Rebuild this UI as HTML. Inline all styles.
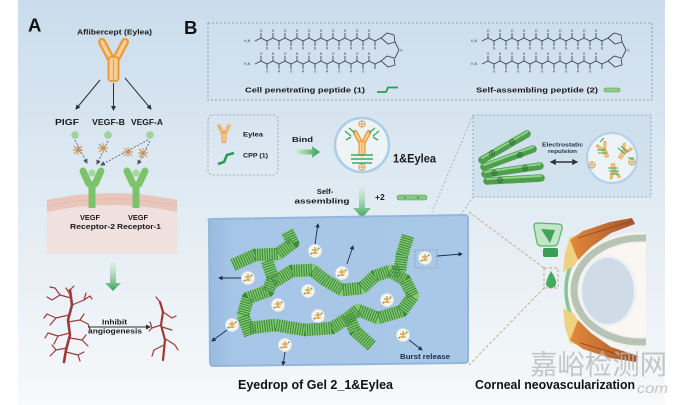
<!DOCTYPE html>
<html><head><meta charset="utf-8">
<style>
html,body{margin:0;padding:0;background:#fff;}
svg{display:block;}
</style></head>
<body>
<svg width="680" height="405" viewBox="0 0 680 405" xmlns="http://www.w3.org/2000/svg" font-family="'Liberation Sans', Arial, sans-serif">
<defs>
 <linearGradient id="bg" x1="0" y1="0" x2="0" y2="1">
  <stop offset="0" stop-color="#cadcec"/>
  <stop offset=".5" stop-color="#e1ebf3"/>
  <stop offset="1" stop-color="#f7f9fa"/>
 </linearGradient>
 <linearGradient id="gel" x1="0" y1="0" x2="1" y2="0">
  <stop offset="0" stop-color="#98bbe0"/>
  <stop offset=".1" stop-color="#a7c6e7"/>
  <stop offset="1" stop-color="#a9c8e7"/>
 </linearGradient>
 <linearGradient id="gh" x1="0" y1="0" x2="1" y2="0">
  <stop offset="0" stop-color="#cdeac8"/>
  <stop offset="1" stop-color="#35a257"/>
 </linearGradient>
 <linearGradient id="gv" x1="0" y1="0" x2="0" y2="1">
  <stop offset="0" stop-color="#d2ecd0" stop-opacity=".4"/>
  <stop offset="1" stop-color="#35a257"/>
 </linearGradient>
 <linearGradient id="orng" x1="0" y1="0" x2="1" y2="0">
  <stop offset="0" stop-color="#e08a3a"/>
  <stop offset="1" stop-color="#a9542a"/>
 </linearGradient>
 <marker id="ah" viewBox="0 0 10 10" refX="8" refY="5" markerWidth="5" markerHeight="5" orient="auto-start-reverse">
  <path d="M0,0L10,5L0,10z" fill="#2a2f38"/>
 </marker>
 <marker id="ahn" viewBox="0 0 10 10" refX="8" refY="5" markerWidth="5" markerHeight="5" orient="auto-start-reverse">
  <path d="M0,0L10,5L0,10z" fill="#1f2d4a"/>
 </marker>
 <marker id="ahg" viewBox="0 0 10 10" refX="8" refY="5" markerWidth="6" markerHeight="6" orient="auto">
  <path d="M0,0L10,5L0,10z" fill="#4a5566"/>
 </marker>
 <g id="ab">
  <line x1="102" y1="42" x2="111" y2="59" stroke="#eb9a3e" stroke-width="8" stroke-linecap="round"/>
  <line x1="125" y1="42" x2="116" y2="59" stroke="#eb9a3e" stroke-width="8" stroke-linecap="round"/>
  <line x1="102" y1="42" x2="111" y2="59" stroke="#f8cf95" stroke-width="3.5" stroke-linecap="round"/>
  <line x1="125" y1="42" x2="116" y2="59" stroke="#f8cf95" stroke-width="3.5" stroke-linecap="round"/>
  <rect x="108.5" y="57" width="10" height="24" rx="3" fill="#f8cf95" stroke="#eb9a3e" stroke-width="2"/>
  <line x1="113.5" y1="59" x2="113.5" y2="80" stroke="#eb9a3e" stroke-width="1"/>
 </g>
 <g id="row" fill="none" stroke="#3c4148" stroke-width=".85">
  <polyline points="255,41 261,38 267,41 273,38 279,41 285,38 291,41 297,38 303,41 309,38 315,41 321,38 327,41 333,38 339,41 345,38 351,41 357,38 363,41 369,38 375,41 381,38"/>
  <path d="M261,38v-5M273,38v-5M285,38v-5M297,38v-5M309,38v-5M321,38v-5M333,38v-5M345,38v-5M357,38v-5M369,38v-5M267,41v5M279,41v5M291,41v5M303,41v5M315,41v5M327,41v5M339,41v5M351,41v5M363,41v5M375,41v5"/>
  <polygon points="381,38 387,33 394,35 395,42 388,44"/>
 </g>
 <g id="pep">
  <use href="#row"/>
  <use href="#row" y="23"/>
  <path d="M395,42 L399,50 L395,58" fill="none" stroke="#3c4148" stroke-width=".85"/>
 </g>
 <g id="np">
  <circle r="6.5" fill="#f6f4ec" stroke="#dde5ea" stroke-width=".7"/>
  <path d="M-3,-1h6M0,-4v7M-2.5,2h5" stroke="#d7a64c" stroke-width="1.4"/>
  <circle cx="-3.6" cy="2.6" r=".9" fill="#5f8a55"/>
  <circle cx="3.6" cy="-2.6" r=".9" fill="#5f8a55"/>
 </g>
 <g id="pl">
  <circle r="3.2" fill="none" stroke="#c8963c" stroke-width=".8"/>
  <path d="M-3.2,0H3.2M0,-3.2V3.2" stroke="#c8963c" stroke-width=".8"/>
 </g>
 <g id="plg">
  <circle r="2.6" fill="none" stroke="#2e6a30" stroke-width=".7"/>
  <path d="M-2.6,0H2.6M0,-2.6V2.6" stroke="#2e6a30" stroke-width=".7"/>
 </g>
 <clipPath id="eyeclip"><rect x="520" y="200" width="126" height="190"/></clipPath>
</defs>

<rect width="680" height="405" fill="#fff"/>
<rect x="18" y="0" width="647" height="405" fill="url(#bg)"/>

<!-- ================= PANEL A ================= -->
<text x="28" y="31.5" font-size="18.5" font-weight="bold" fill="#111">A</text>
<text x="77" y="34.5" font-size="7.6" font-weight="bold" fill="#1a1a1a" textLength="75" lengthAdjust="spacingAndGlyphs">Aflibercept (Eylea)</text>
<use href="#ab"/>
<g stroke="#2a2f38" stroke-width="1">
 <line x1="100" y1="80" x2="76" y2="109" marker-end="url(#ah)"/>
 <line x1="113.5" y1="83" x2="113.5" y2="110" marker-end="url(#ah)"/>
 <line x1="125" y1="78" x2="151" y2="109" marker-end="url(#ah)"/>
</g>
<g font-size="8" font-weight="bold" fill="#1a1a1a">
 <text x="55" y="125" textLength="24" lengthAdjust="spacingAndGlyphs">PlGF</text>
 <text x="92" y="125" textLength="33" lengthAdjust="spacingAndGlyphs">VEGF-B</text>
 <text x="131" y="125" textLength="32" lengthAdjust="spacingAndGlyphs">VEGF-A</text>
</g>
<g fill="#9fd39a">
 <circle cx="75" cy="135" r="3.8"/><circle cx="108" cy="135" r="3.8"/><circle cx="150" cy="135" r="3.8"/>
</g>
<g stroke="#4a5566" stroke-width=".8" stroke-dasharray="2 1.5" fill="none">
 <line x1="75" y1="140" x2="87" y2="163" marker-end="url(#ahg)"/>
 <line x1="108" y1="141" x2="97" y2="164" marker-end="url(#ahg)"/>
 <line x1="148" y1="140" x2="101" y2="165" marker-end="url(#ahg)"/>
 <line x1="150" y1="141" x2="138" y2="164" marker-end="url(#ahg)"/>
</g>
<g stroke="#c98a4a" stroke-width=".9">
 <path d="M74,146l8,8M82,146l-8,8M78,145v10M73,150h10"/>
 <path d="M99,144l8,8M107,144l-8,8M103,143v10M98,148h10"/>
 <path d="M124,148l8,8M132,148l-8,8M128,147v10M123,152h10"/>
 <path d="M139,149l8,8M147,149l-8,8M143,148v10M138,153h10"/>
</g>
<!-- membrane -->
<path d="M47,200 Q112,186 177,200 L177,254 L47,254 Z" fill="#f1e1de"/>
<path d="M47,200 Q112,186 177,200 L177,212 Q112,198 47,212 Z" fill="#e9c6bb"/>
<path d="M47,206 Q112,192 177,206" fill="none" stroke="#d6a396" stroke-width=".8" stroke-dasharray="1 1.5"/>
<!-- receptors -->
<g stroke="#7cc36b" stroke-linecap="round" fill="none">
 <line x1="83" y1="171" x2="89" y2="184" stroke-width="7"/>
 <line x1="101" y1="171" x2="95" y2="184" stroke-width="7"/>
 <line x1="92" y1="184" x2="92" y2="208" stroke-width="7" stroke-linecap="butt"/>
 <line x1="127" y1="171" x2="133" y2="184" stroke-width="7"/>
 <line x1="145" y1="171" x2="139" y2="184" stroke-width="7"/>
 <line x1="136" y1="184" x2="136" y2="208" stroke-width="7" stroke-linecap="butt"/>
</g>
<circle cx="92" cy="173" r="3.5" fill="#a3d89b"/>
<circle cx="136" cy="173" r="3.5" fill="#a3d89b"/>
<g font-size="7.6" font-weight="bold" fill="#1a1a1a">
 <text x="80" y="220" textLength="20" lengthAdjust="spacingAndGlyphs">VEGF</text>
 <text x="128" y="220" textLength="20" lengthAdjust="spacingAndGlyphs">VEGF</text>
 <text x="70" y="229" textLength="45" lengthAdjust="spacingAndGlyphs">Receptor-2</text>
 <text x="117" y="229" textLength="44" lengthAdjust="spacingAndGlyphs">Receptor-1</text>
</g>
<!-- green arrow A -->
<path d="M110,262 H116 V283 H121 L113,291 L105,283 H110 Z" fill="url(#gv)"/>
<!-- vessels -->
<g stroke="#9c3a3a" fill="none" stroke-linecap="round" stroke-linejoin="round">
 <path d="M70,290 L72,305 L68,320 L70,335 L66,350 L64,362" stroke-width="2.6"/>
 <path d="M160,302 L163,312 L161,325 L165,340 L163,360" stroke-width="2.2"/>
 <g stroke-width="1.2">
  <path d="M71,298 L60,295 L52,300 M60,295 L55,288 M52,300 L47,297 M55,288 L50,287"/>
  <path d="M72,305 L84,300 L90,296 M84,300 L86,293 M90,296 L92,299"/>
  <path d="M69,315 L56,318 L47,314 M56,318 L50,325 M47,314 L44,318"/>
  <path d="M68,322 L80,320 L88,324 M80,320 L84,314 M88,324 L90,330"/>
  <path d="M70,333 L58,336 L48,333 M58,336 L54,344 M48,333 L45,338"/>
  <path d="M70,338 L82,340 L88,346 M82,340 L86,335"/>
  <path d="M67,348 L56,350 L50,356 M56,350 L52,345"/>
  <path d="M66,352 L78,355 L84,352 M78,355 L80,361"/>
  <path d="M71,296 L66,288 M70,290 L74,286"/>
  <path d="M163,312 L172,318 L176,316 M161,325 L152,328 L150,322 M162,327 L172,330 M164,338 L175,345 L178,350 M164,345 L154,350 L152,356 M160,302 L156,297 M152,328 L149,331"/>
 </g>
</g>
<line x1="88" y1="327" x2="150" y2="327" stroke="#2a2f38" stroke-width="1" marker-end="url(#ah)"/>
<text x="102" y="324.5" font-size="7" font-weight="bold" fill="#1a1a1a" textLength="25" lengthAdjust="spacingAndGlyphs">Inhibit</text>
<text x="88" y="333.5" font-size="7" font-weight="bold" fill="#1a1a1a" textLength="54" lengthAdjust="spacingAndGlyphs">angiogenesis</text>

<!-- ================= PANEL B ================= -->
<text x="184" y="34" font-size="18.5" font-weight="bold" fill="#111">B</text>
<rect x="208" y="23" width="444" height="77" fill="none" stroke="#7f8c99" stroke-width=".8" stroke-dasharray="2 2"/>
<use href="#pep"/>
<use href="#pep" x="227"/>
<g font-size="3.4" fill="#3a3f46">
 <text x="244" y="42">H₂N</text><text x="244" y="65">H₂N</text>
 <text x="471" y="42">H₂N</text><text x="471" y="65">H₂N</text>
 <text x="259.8 271.8 283.8 295.8 307.8 319.8 331.8 343.8 355.8 367.8" y="32">OHOHOHOHOH</text>
 <text x="265.8 277.8 289.8 301.8 313.8 325.8 337.8 349.8 361.8 373.8" y="49.5">NRNRNRNRNR</text>
 <text x="259.8 271.8 283.8 295.8 307.8 319.8 331.8 343.8 355.8 367.8" y="55">OHOHOHOHOH</text>
 <text x="265.8 277.8 289.8 301.8 313.8 325.8 337.8 349.8 361.8 373.8" y="72.5">ORORORORO</text>
 <text x="486.8 498.8 510.8 522.8 534.8 546.8 558.8 570.8 582.8 594.8" y="32">OHOHOHOHOH</text>
 <text x="492.8 504.8 516.8 528.8 540.8 552.8 564.8 576.8 588.8 600.8" y="49.5">NRNRNRNRNR</text>
 <text x="486.8 498.8 510.8 522.8 534.8 546.8 558.8 570.8 582.8 594.8" y="55">OHOHOHOHOH</text>
 <text x="492.8 504.8 516.8 528.8 540.8 552.8 564.8 576.8 588.8 600.8" y="72.5">ORORORORO</text>
 <text x="400" y="51.5">O</text><text x="627" y="51.5">O</text>
</g>
<text x="245" y="92.5" font-size="7.6" font-weight="bold" fill="#1a1a1a" textLength="120" lengthAdjust="spacingAndGlyphs">Cell penetrating peptide (1)</text>
<polyline points="377,92 386,92 388,87.5 398,87.5" fill="none" stroke="#2f9a55" stroke-width="1.8"/>
<text x="476" y="92.5" font-size="7.6" font-weight="bold" fill="#1a1a1a" textLength="122" lengthAdjust="spacingAndGlyphs">Self-assembling peptide (2)</text>
<rect x="604" y="88" width="16" height="4" rx="1.5" fill="#8ccb88" stroke="#4d9e50" stroke-width=".5"/>

<!-- small box -->
<rect x="208" y="115" width="70" height="60" rx="5" fill="none" stroke="#8d9aa8" stroke-width=".8" stroke-dasharray="2 2"/>
<use href="#ab" transform="translate(217,124) scale(.42) translate(-97,-37)"/>
<polyline points="218,164 224,162 227,155 234,153" fill="none" stroke="#2f9a55" stroke-width="2.6"/>
<text x="243" y="136.5" font-size="6.5" font-weight="bold" fill="#1a1a1a" textLength="20" lengthAdjust="spacingAndGlyphs">Eylea</text>
<text x="243" y="157.5" font-size="6.5" font-weight="bold" fill="#1a1a1a" textLength="25" lengthAdjust="spacingAndGlyphs">CPP (1)</text>
<text x="292" y="142" font-size="7" font-weight="bold" fill="#1a1a1a" textLength="21" lengthAdjust="spacingAndGlyphs">Bind</text>
<path d="M297,149.5 H312 V146 L320,152 L312,158 V154.5 H297 Z" fill="url(#gh)"/>

<!-- 1&Eylea circle -->
<circle cx="362" cy="145" r="27" fill="#eef3f5" stroke="#aacde8" stroke-width="2.5"/>
<use href="#ab" transform="translate(362,143) scale(.6) translate(-113.5,-60)"/>
<g stroke="#3faa62" stroke-width="1.4" fill="none">
 <path d="M351,155 H373 M351,159 H373 M352,163 H372"/>
 <path d="M345,131 l6,5 M349,128 l6,5 M379,131 l-6,5 M375,128 l-6,5"/>
 <path d="M346,140 l5,-3 M378,140 l-5,-3"/>
</g>
<use href="#pl" x="362" y="124"/>
<use href="#pl" x="362" y="167"/>
<text x="393" y="162.5" font-size="11.5" font-weight="bold" fill="#1a1a1a" textLength="43" lengthAdjust="spacingAndGlyphs">1&amp;Eylea</text>

<!-- self assembling arrow -->
<path d="M359,187 H365 V208 H371 L362,218 L353,208 H359 Z" fill="url(#gv)"/>
<text x="325" y="194" font-size="7.6" font-weight="bold" fill="#1a1a1a" text-anchor="middle">Self-</text>
<text x="322" y="203.5" font-size="7.6" font-weight="bold" fill="#1a1a1a" text-anchor="middle" textLength="55" lengthAdjust="spacingAndGlyphs">assembling</text>
<text x="375" y="200" font-size="8.5" font-weight="bold" fill="#1a1a1a">+2</text>
<rect x="397" y="195" width="30" height="5" rx="2.5" fill="#86c983" stroke="#4d9e50" stroke-width=".6"/>
<circle cx="405" cy="197.5" r=".8" fill="#2e6a30"/><circle cx="418" cy="197.5" r=".8" fill="#2e6a30"/>

<!-- right dashed box -->
<rect x="473" y="115" width="178" height="82" fill="#c7dae9" fill-opacity=".55" stroke="#8d9aa8" stroke-width=".8" stroke-dasharray="2 2"/>
<g stroke-linecap="round">
 <line x1="482" y1="160" x2="527" y2="134" stroke="#4f9e4c" stroke-width="7.5"/>
 <line x1="484" y1="167" x2="533" y2="149" stroke="#4f9e4c" stroke-width="7.5"/>
 <line x1="485" y1="174" x2="540" y2="166" stroke="#4f9e4c" stroke-width="7.5"/>
 <line x1="487" y1="181" x2="541" y2="178" stroke="#4f9e4c" stroke-width="7.5"/>
 <line x1="482" y1="158" x2="527" y2="132" stroke="#8fd487" stroke-width="2"/>
 <line x1="484" y1="165" x2="533" y2="147" stroke="#8fd487" stroke-width="2"/>
 <line x1="485" y1="172" x2="540" y2="164" stroke="#8fd487" stroke-width="2"/>
 <line x1="487" y1="179" x2="541" y2="176" stroke="#8fd487" stroke-width="2"/>
</g>
<use href="#plg" x="512" y="142"/><use href="#plg" x="492" y="153"/>
<use href="#plg" x="520" y="155"/><use href="#plg" x="525" y="168"/>
<use href="#plg" x="494" y="173"/><use href="#plg" x="500" y="180"/>
<text x="542" y="146.5" font-size="5.6" font-weight="bold" fill="#1e2b48" textLength="41" lengthAdjust="spacingAndGlyphs">Electrostatic</text>
<text x="548" y="153" font-size="5.6" font-weight="bold" fill="#1e2b48" textLength="29" lengthAdjust="spacingAndGlyphs">repulsion</text>
<line x1="551" y1="162" x2="577" y2="162" stroke="#111" stroke-width="1.2" marker-start="url(#ah)" marker-end="url(#ah)"/>
<circle cx="612" cy="158" r="25" fill="#eef3f6" stroke="#b3d2ea" stroke-width="2.2"/>
<use href="#ab" transform="translate(604,150) rotate(-25) scale(.36) translate(-113.5,-60)"/>
<use href="#ab" transform="translate(624,152) rotate(35) scale(.36) translate(-113.5,-60)"/>
<use href="#ab" transform="translate(614,171) rotate(170) scale(.36) translate(-113.5,-60)"/>
<g stroke="#3faa62" stroke-width="1.1" fill="none">
 <path d="M597,150 h9 M598,153 h9 M618,148 l7,6 M621,146 l7,6 M608,168 h10 M609,171 h10 M610,174 h9 M628,158 h6 M600,142 l4,-4"/>
</g>
<use href="#pl" x="592" y="165"/>
<use href="#pl" x="632" y="162"/>

<!-- connector dashed lines -->
<g stroke="#9aa8b4" stroke-width=".8" stroke-dasharray="2 2" fill="none">
 <line x1="473" y1="115" x2="416" y2="250"/>
 <line x1="473" y1="197" x2="437" y2="250"/>
</g>
<g stroke="#c9a27a" stroke-width=".9" stroke-dasharray="3 2" fill="none">
 <line x1="469" y1="212" x2="544" y2="268"/>
 <line x1="544" y1="288" x2="469" y2="365"/>
 <rect x="544" y="268" width="14" height="20"/>
</g>

<!-- gel -->
<path d="M209,221 Q207,219 212,219 L465,215 Q468,215 468,219 L468,360 Q468,363 464,363 L213,366 Q210,366 210,362 Z" fill="url(#gel)" stroke="#93b6db" stroke-width="2"/>
<g fill="none" stroke-linejoin="round" stroke-width="12.5">
 <g stroke="#86c977">
  <polyline points="233,265 255,255 278,254 293,243 287,231"/>
  <polyline points="267,261 273,278 268,291 248,298 243,315 250,335"/>
  <polyline points="250,328 275,325 305,330 332,328 348,318 358,310 378,318 402,311 413,296 405,280 390,271 375,276 362,288 342,290 325,280 312,270 292,271 272,283"/>
  <polyline points="408,236 402,255 400,270 392,272"/>
  <polyline points="348,315 355,331 372,346"/>
 </g>
 <g stroke="#3d8c3a" stroke-dasharray="1.1 1.3">
  <polyline points="233,265 255,255 278,254 293,243 287,231"/>
  <polyline points="267,261 273,278 268,291 248,298 243,315 250,335"/>
  <polyline points="250,328 275,325 305,330 332,328 348,318 358,310 378,318 402,311 413,296 405,280 390,271 375,276 362,288 342,290 325,280 312,270 292,271 272,283"/>
  <polyline points="408,236 402,255 400,270 392,272"/>
  <polyline points="348,315 355,331 372,346"/>
 </g>
</g>
<use href="#np" x="315" y="251"/><use href="#np" x="342" y="273"/>
<use href="#np" x="248" y="278"/><use href="#np" x="308" y="291"/>
<use href="#np" x="278" y="305"/><use href="#np" x="318" y="316"/>
<use href="#np" x="387" y="300"/><use href="#np" x="232" y="325"/>
<use href="#np" x="285" y="345"/><use href="#np" x="403" y="335"/>
<use href="#np" x="425" y="258"/>
<rect x="415" y="250" width="22" height="18" fill="none" stroke="#8a9aaa" stroke-width=".8" stroke-dasharray="2 1.5"/>
<g stroke="#1f2d4a" stroke-width=".9" fill="none">
 <line x1="315" y1="244" x2="318" y2="224" marker-end="url(#ahn)"/>
 <line x1="347" y1="264" x2="353" y2="246" marker-end="url(#ahn)"/>
 <line x1="241" y1="278" x2="219" y2="278" marker-end="url(#ahn)"/>
 <line x1="437" y1="256" x2="462" y2="254" marker-end="url(#ahn)"/>
 <line x1="227" y1="330" x2="212" y2="341" marker-end="url(#ahn)"/>
 <line x1="285" y1="352" x2="283" y2="365" marker-end="url(#ahn)"/>
 <line x1="409" y1="340" x2="422" y2="350" marker-end="url(#ahn)"/>
</g>
<text x="400" y="359" font-size="7" font-weight="bold" fill="#1e2b48" textLength="50" lengthAdjust="spacingAndGlyphs">Burst release</text>
<text x="238" y="389" font-size="12.5" font-weight="bold" fill="#111" textLength="155" lengthAdjust="spacingAndGlyphs">Eyedrop of Gel 2_1&amp;Eylea</text>

<!-- eye -->
<g clip-path="url(#eyeclip)">
 <ellipse cx="641" cy="290" rx="73" ry="58" fill="#f5f2ec"/>
 <ellipse cx="641" cy="290" rx="67" ry="52" fill="none" stroke="#b7c4b5" stroke-width="7"/>
 <ellipse cx="641" cy="290" rx="61" ry="47" fill="#faf7f2"/>
 <ellipse cx="608" cy="291" rx="29" ry="36" fill="#eef2f4"/>
 <ellipse cx="608" cy="291" rx="26" ry="33" fill="#cfdbe6"/>
</g>
<path d="M580,247 Q552,290 580,333" fill="none" stroke="#85c693" stroke-width="3.5"/>
<path d="M571,318 Q578,332 592,339" fill="none" stroke="#4fa86a" stroke-width="3"/>
<path d="M571,262 Q566,250 574,242" fill="none" stroke="#4fa86a" stroke-width="2.5"/>
<polygon points="565,253 570,237 598,231 588,243 574,266 563,272" fill="#efd27f"/>
<polygon points="565,327 570,343 598,349 588,337 574,314 563,308" fill="#efd27f"/>
<polygon points="570,240 583,231 610,222 632,218 635,224 611,233 591,247 578,260" fill="url(#orng)"/>
<polygon points="570,340 583,349 610,358 636,362 638,356 611,347 591,333 578,320" fill="url(#orng)"/>
<path d="M578,238 L632,221 M580,343 L634,359" stroke="#8a4424" stroke-width=".8"/>
<!-- eyedrop bottle -->
<path d="M534,227 Q533,223 538,223 L558,224 Q563,224 562,229 L558,243 Q557,246 553,246 L542,246 Q538,246 537,243 Z" fill="#c3e6c6" stroke="#5cb36c" stroke-width="1.2"/>
<path d="M541,229 L555,230 L550,243 Z" fill="#3ea45a"/>
<rect x="543" y="248" width="15" height="9" rx="2" fill="#3b9d53"/>
<path d="M551,271 Q557,280 556,284 Q555,288 551,288 Q547,288 546,284 Q546,280 551,271 Z" fill="#45ab5d"/>
<text x="475" y="389" font-size="12.5" font-weight="bold" fill="#111" textLength="160" lengthAdjust="spacingAndGlyphs">Corneal neovascularization</text>

<!-- watermark -->
<text x="530" y="374" font-size="27.5" fill="#b8b8b8" fill-opacity=".8" font-family="'Liberation Sans','Noto Sans CJK SC',sans-serif" textLength="137" lengthAdjust="spacingAndGlyphs">嘉峪检测网</text>
<text x="637" y="393" font-size="14" font-style="italic" fill="#c4c4c4" textLength="31" lengthAdjust="spacingAndGlyphs">com</text>
</svg>
</body></html>
